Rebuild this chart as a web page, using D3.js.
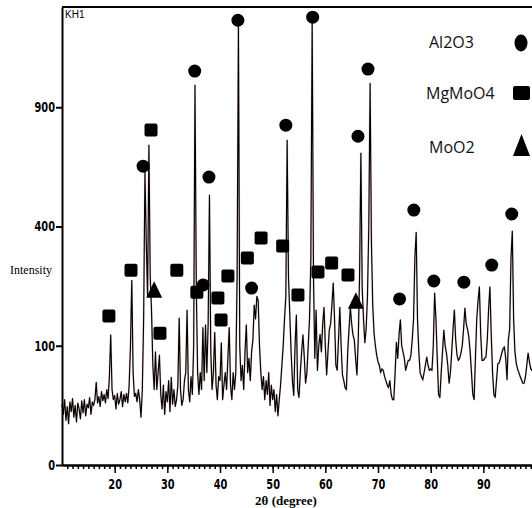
<!DOCTYPE html>
<html lang="en">
	<head>
		<meta charset="utf-8">
		<title>XRD pattern KH1</title>
		<script type="text/javascript" src="https://d3js.org/d3.v7.min.js"></script>
		<style type="text/css">
			body { margin: 0; background: #fff; }
			svg { display: block; }
			.tick text { font-family: 'Liberation Sans Narrow', 'Arial Narrow', 'DejaVu Sans Condensed', sans-serif; font-weight: bold; font-size: 14px; }
		</style>
	</head>
	<body>
		<div id="chart"></div>
		<script type="text/javascript">

			// scan: start angle, step, intensities (counts), 4 per degree
			var startDeg = 10;
			var stepDeg = 0.25;
			var intensity = [
				26, 18, 30, 14,   24, 12, 28, 20,   31, 16, 25, 13,   27, 22, 15, 29,   19, 30, 17, 26,
				23, 32, 18, 28,   25, 30, 48, 27,   33, 24, 38, 29,   35, 27, 40, 31,   55, 119, 40, 30,
				34, 22, 36, 26,   30, 38, 24, 35,   28, 36, 27, 45,   100, 240, 60, 33, 36, 28, 40, 30,
				16, 40, 150, 603, 350, 200, 720, 250, 167, 70, 40, 90, 40, 60, 85, 35,  22, 45, 18, 38,
				28, 50, 20, 54,   26, 40, 24, 30,   45, 152, 40, 25,  30, 50, 60, 169,  40, 28, 55, 35,
				100, 1015, 220, 60, 35, 60, 40, 133, 50, 138, 60, 140, 512, 90, 40, 60, 124, 45, 30, 55,
				50, 105, 30, 45,  60, 40, 80, 133,  45, 30, 60, 40,   60, 250, 1360, 100, 50, 70, 40, 90,
				138, 60, 80, 50,  90, 110, 180, 150, 200, 190, 100, 60, 40, 55, 30, 50, 35, 60, 25, 45,
				30, 40, 20, 35,   17, 30, 45, 70,   100, 150, 200, 742, 250, 160, 90, 50, 34, 100, 158, 40,
				32, 60, 90, 119,  82, 47, 60, 100,  150, 300, 1392, 250, 80, 169, 63, 100, 120, 90, 140, 175,
				100, 57, 90, 128, 140, 180, 233, 150, 70, 63, 110, 175, 100, 57, 50, 42, 40, 90, 130, 175,
				140, 119, 110, 80, 57, 110, 250, 684, 220, 150, 105, 130, 200, 400, 1025, 350, 180, 122, 100, 85,
				75, 70, 60, 65,   63, 55, 50, 45,   42, 50, 35, 30,   30, 60, 106, 80,  120, 148, 100, 90,
				80, 63, 70, 77,   77, 85, 110, 150, 300, 381, 150, 90, 60, 55, 51, 60,  70, 82, 70, 63,
				65, 63, 100, 208, 150, 80, 35, 32,  60, 90, 128, 100, 88, 70, 47, 60,  90, 130, 169, 110,
				85, 77, 80, 88,   100, 130, 173, 140, 130, 115, 90, 60, 35, 30, 80, 150, 190, 223, 120, 77,
				77, 80, 82, 110,  170, 223, 120, 60, 35, 32, 50, 72,  73, 80, 88, 95,  98, 80, 51, 110,
				130, 300, 385, 150, 90, 73, 65, 60, 55, 51, 47, 47,   55, 70, 88, 75,  65, 63, 70, 60
			];

			// phase markers: [2theta, intensity where the symbol sits]
			var al2o3 = [[25.4, 628], [35.2, 1091], [36.8, 228], [37.9, 583], [43.4, 1391], [46.0, 220],
						 [52.5, 812], [57.6, 1410], [66.2, 760], [68.1, 1102], [74.1, 194], [76.8, 457],
						 [80.6, 238], [86.3, 235], [91.6, 281], [95.4, 443]];
			var mgmoo4 = [[18.9, 156], [23.1, 267], [26.9, 789], [28.6, 122], [31.8, 267], [35.6, 210],
						  [39.6, 196], [40.2, 148], [41.5, 251], [45.2, 301], [47.8, 362], [51.9, 337],
						  [54.8, 203], [58.6, 262], [61.2, 287], [64.3, 254]];
			var moo2 = [[27.5, 210], [65.8, 184]];

			var legendNames = ["Al2O3", "MgMoO4", "MoO2"];
			var yTicks = [0, 100, 400, 900];
			var xTicks = [20, 30, 40, 50, 60, 70, 80, 90];

			var w = 532, h = 508;
			var plotLeft = 62, plotTop = 7, plotBottom = 465;

			var xScale = d3.scaleLinear().domain([10, 100]).range([plotLeft, 536]);
			var yScale = d3.scaleSqrt().domain([0, 1475]).range([plotBottom, plotTop]);

			var svg = d3.select("#chart")
						.append("svg")
						.attr("width", w)
						.attr("height", h);

			var scan = intensity.map(function(v, i) {
				return [startDeg + i * stepDeg, v];
			});

			var line = d3.line()
				.x(function(d) { return xScale(d[0]); })
				.y(function(d) { return yScale(d[1]); });

			//pattern, faint reddish halo under a black line
			svg.append("path")
				.datum(scan)
				.attr("d", line)
				.style("fill", "none")
				.style("stroke", "#d4a3a3")
				.style("stroke-width", 2)
				.style("opacity", 0.5);
			svg.append("path")
				.datum(scan)
				.attr("d", line)
				.style("fill", "none")
				.style("stroke", "#000")
				.style("stroke-width", 1.15)
				.style("stroke-linejoin", "round");

			//top frame line
			svg.append("line")
				.attr("x1", plotLeft).attr("x2", w)
				.attr("y1", plotTop).attr("y2", plotTop)
				.style("stroke", "#000")
				.style("stroke-width", 2);

			//axes
			var yAxis = d3.axisLeft(yScale)
						  .tickValues(yTicks)
						  .tickSize(6)
						  .tickSizeOuter(0)
						  .tickFormat(d3.format("d"));
			var gy = svg.append("g")
						.attr("transform", "translate(" + plotLeft + ",0)")
						.call(yAxis);

			var xMinor = d3.axisBottom(xScale)
						   .tickValues(d3.range(11, 100, 1))
						   .tickSize(4)
						   .tickSizeOuter(0)
						   .tickFormat("");
			svg.append("g")
				.attr("transform", "translate(0," + plotBottom + ")")
				.call(xMinor);

			var xAxis = d3.axisBottom(xScale)
						  .tickValues(xTicks)
						  .tickSize(8)
						  .tickSizeOuter(0)
						  .tickPadding(6);
			var gx = svg.append("g")
						.attr("transform", "translate(0," + plotBottom + ")")
						.call(xAxis);

			svg.selectAll(".domain").style("stroke-width", 2);
			svg.selectAll(".tick line").style("stroke-width", 1.5);
			gy.selectAll(".tick line").style("stroke-width", 2);

			//condensed look for the tick numbers
			gy.selectAll(".tick text").attr("x", -9).attr("transform", "scale(0.78,1)");
			gx.selectAll(".tick text").attr("transform", "scale(0.78,1)");

			//markers
			svg.selectAll("circle.al")
				.data(al2o3)
				.enter()
				.append("circle")
				.attr("class", "al")
				.attr("cx", function(d) { return xScale(d[0]); })
				.attr("cy", function(d) { return yScale(d[1]); })
				.attr("r", 6.5)
				.attr("fill", "#000");

			svg.selectAll("rect.mg")
				.data(mgmoo4)
				.enter()
				.append("rect")
				.attr("class", "mg")
				.attr("x", function(d) { return xScale(d[0]) - 6.5; })
				.attr("y", function(d) { return yScale(d[1]) - 6.5; })
				.attr("width", 13)
				.attr("height", 13)
				.attr("rx", 2)
				.attr("fill", "#000");

			var tri = d3.symbol().type(d3.symbolTriangle).size(110);
			svg.selectAll("path.mo")
				.data(moo2)
				.enter()
				.append("path")
				.attr("class", "mo")
				.attr("transform", function(d) { return "translate(" + xScale(d[0]) + "," + yScale(d[1]) + ") scale(1,1.2)"; })
				.attr("d", tri)
				.attr("fill", "#000");

			//legend
			var lg = svg.append("g")
						.style("font-family", "'Open Sans', sans-serif")
						.style("font-size", "16px")
						.style("fill", "#111");
			var legendY = [48, 99, 153];
			lg.selectAll("text")
				.data(legendNames)
				.enter()
				.append("text")
				.attr("x", function(d, i) { return i === 1 ? 426 : 429; })
				.attr("y", function(d, i) { return legendY[i]; })
				.text(function(d) { return d; });
			lg.append("ellipse").attr("cx", 521).attr("cy", 43).attr("rx", 6.5).attr("ry", 8.5).attr("fill", "#000");
			lg.append("rect").attr("x", 513).attr("y", 86).attr("width", 17).attr("height", 14).attr("rx", 2).attr("fill", "#000");
			lg.append("path").attr("d", "M521.5,134 L513,156 L530,156 Z").attr("fill", "#000");

			//labels
			svg.append("text")
				.attr("x", 65)
				.attr("y", 18)
				.style("font-family", "'Liberation Sans Narrow', 'Arial Narrow', sans-serif")
				.style("font-size", "10px")
				.text("KH1");

			svg.append("text")
				.attr("x", 10)
				.attr("y", 274)
				.style("font-family", "'Liberation Serif', 'Times New Roman', serif")
				.style("font-size", "12px")
				.text("Intensity");

			svg.append("text")
				.attr("x", 286)
				.attr("y", 505)
				.attr("text-anchor", "middle")
				.style("font-family", "'Liberation Serif', 'Times New Roman', serif")
				.style("font-size", "13px")
				.style("font-weight", "bold")
				.text("2θ (degree)");
		</script>
	</body>
</html>
